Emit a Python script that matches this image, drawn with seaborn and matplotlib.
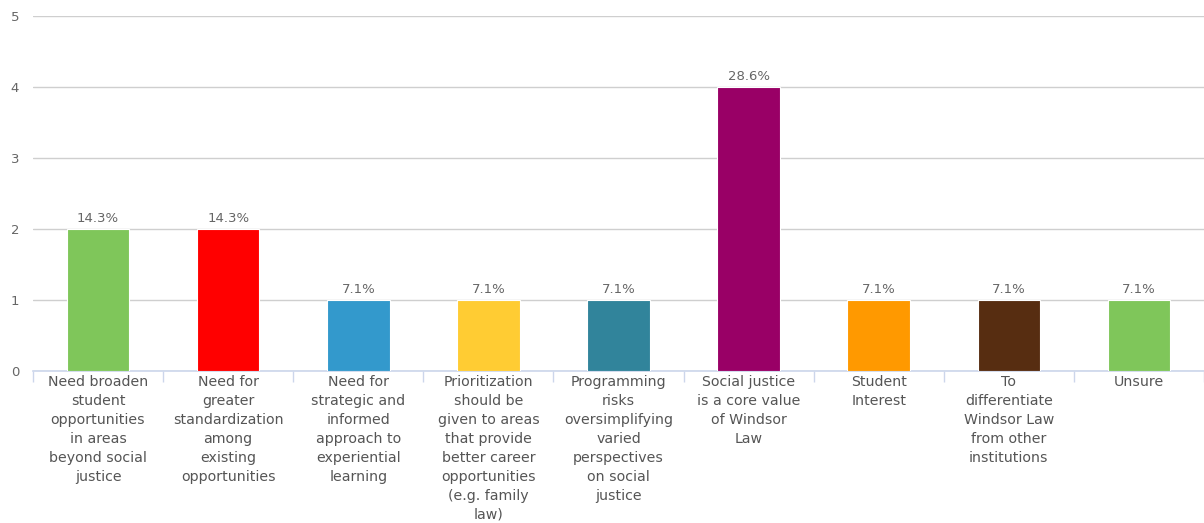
import matplotlib
matplotlib.use("Agg")
import matplotlib.pyplot as plt
import seaborn as sns
import pandas as pd
import numpy as np

categories = [
    "Need broaden\nstudent\nopportunities\nin areas\nbeyond social\njustice",
    "Need for\ngreater\nstandardization\namong\nexisting\nopportunities",
    "Need for\nstrategic and\ninformed\napproach to\nexperiential\nlearning",
    "Prioritization\nshould be\ngiven to areas\nthat provide\nbetter career\nopportunities\n(e.g. family\nlaw)",
    "Programming\nrisks\noversimplifying\nvaried\nperspectives\non social\njustice",
    "Social justice\nis a core value\nof Windsor\nLaw",
    "Student\nInterest",
    "To\ndifferentiate\nWindsor Law\nfrom other\ninstitutions",
    "Unsure",
]
counts = [2, 2, 1, 1, 1, 4, 1, 1, 1]
colors = ["#7fc65a", "#ff0000", "#3399cc", "#ffcc33", "#31849b",
          "#990066", "#ff9900", "#572d11", "#7fc65a"]
y_ticks = [0, 1, 2, 3, 4, 5]

total = sum(counts)
df = pd.DataFrame({"category": categories, "count": counts})

sns.set_theme(style="white")
plt.rcParams["font.family"] = ["DejaVu Sans"]

fig = plt.figure(figsize=(12.04, 5.23), dpi=100)
ax = fig.add_axes([33 / 1204, 152 / 523, 1 - 33 / 1204, (371 - 16) / 523])

sns.barplot(data=df, x="category", y="count", hue="category",
            palette=colors, legend=False, width=0.48, saturation=1,
            edgecolor="white", linewidth=0.8, ax=ax, zorder=3)

ax.set_ylim(0, 5)
ax.set_xlim(-0.5, len(categories) - 0.5)
ax.set_yticks(y_ticks)
ax.set_yticklabels([str(t) for t in y_ticks], color="#666666", fontsize=9.5)
ax.yaxis.grid(True, color="#cfcfcf", linewidth=1, zorder=0)
ax.set_axisbelow(True)
ax.set_xlabel("")
ax.set_ylabel("")

# category labels centered under bars, ticks on category boundaries
ax.set_xticks(range(len(categories)))
ax.set_xticklabels(categories, color="#555555", fontsize=10.2,
                   linespacing=1.45, va="top")
ax.tick_params(axis="x", which="major", length=0, pad=3)
ax.set_xticks(np.arange(-0.5, len(categories), 1.0), minor=True)
ax.tick_params(axis="x", which="minor", bottom=True, length=8,
               color="#ccd6eb", width=1, direction="out")
ax.tick_params(axis="y", length=0, pad=16)
for lbl in ax.get_yticklabels():
    lbl.set_horizontalalignment("left")

for side in ["top", "right", "left"]:
    ax.spines[side].set_visible(False)
ax.spines["bottom"].set_color("#ccd6eb")
ax.spines["bottom"].set_linewidth(1.2)

for i, c in enumerate(counts):
    ax.annotate(f"{c / total * 100:.1f}%", (i, c), xytext=(0, 3),
                textcoords="offset points", ha="center", va="bottom",
                color="#666666", fontsize=9.5)

fig.savefig("out.png", dpi=100)
